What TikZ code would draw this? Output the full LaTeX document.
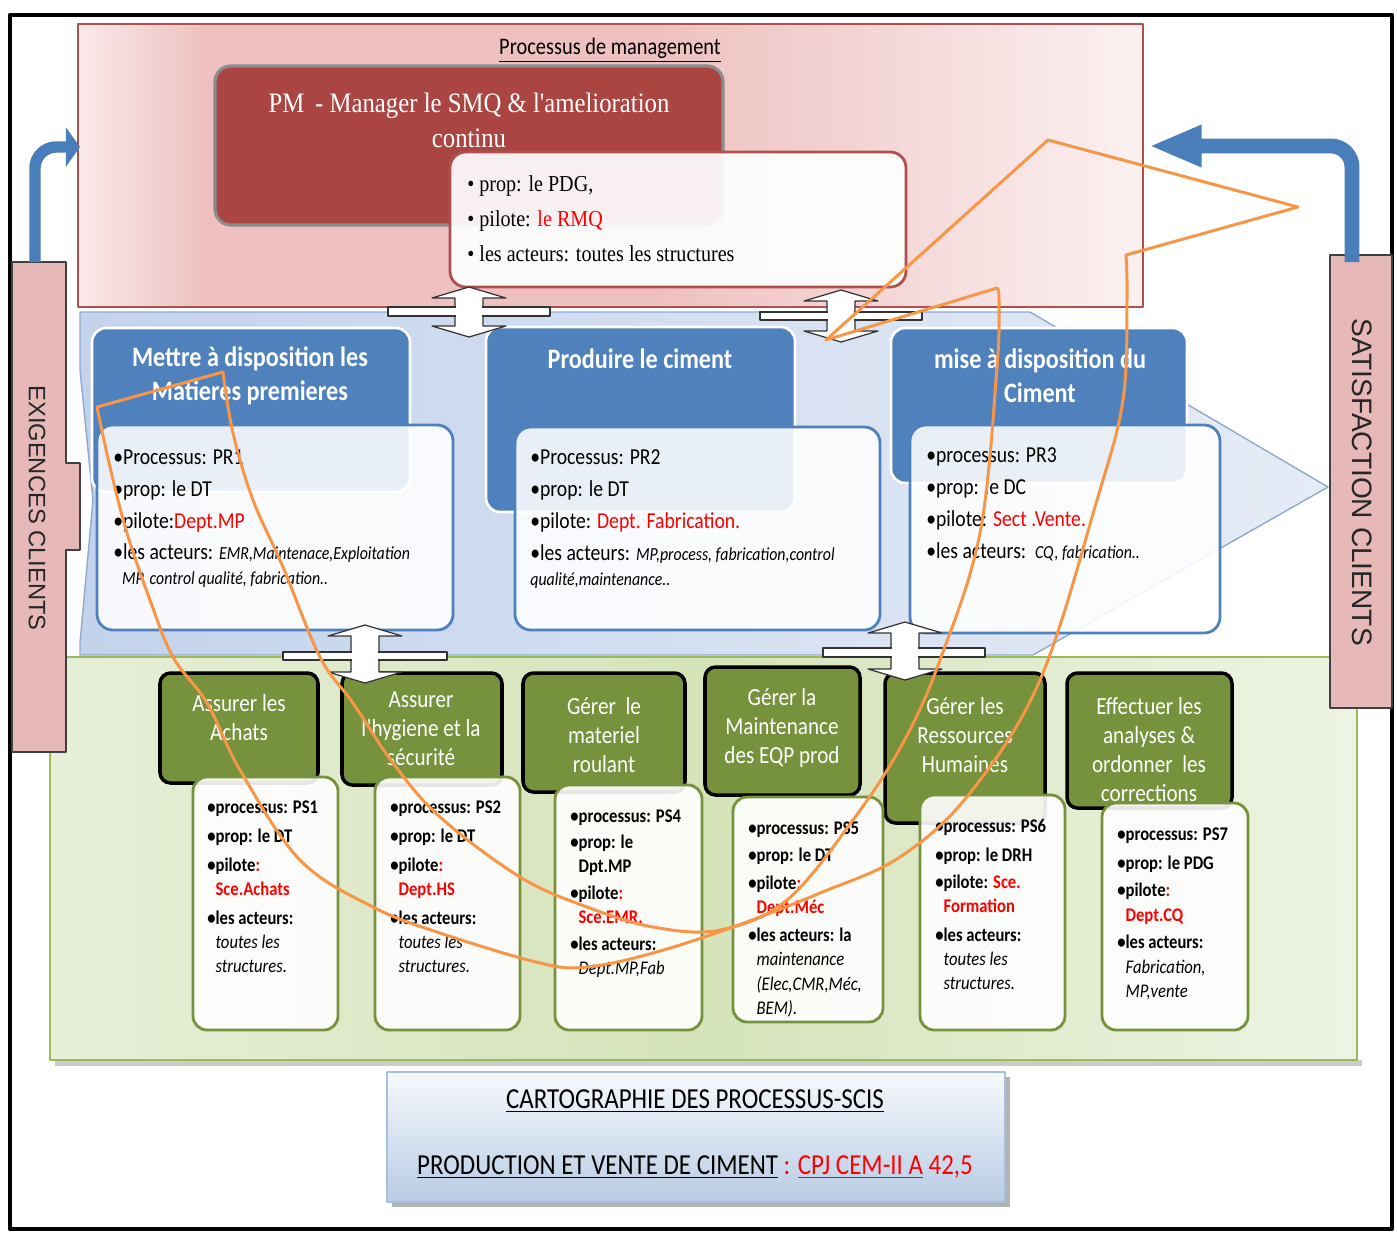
\documentclass[tikz,border=0pt]{standalone}
\usepackage{fontspec}
\setmainfont{Carlito}[FakeStretch=0.86]
\newfontfamily\pmserif{Liberation Serif}[FakeStretch=0.88]
\newfontfamily\sidesans{Liberation Sans}
\usetikzlibrary{arrows.meta,positioning}

% -------------------------------------------------
% Palette
% -------------------------------------------------
\definecolor{pkA}{HTML}{FAEAEA}
\definecolor{pkB}{HTML}{EEC0C0}
\definecolor{pkC}{HTML}{FBF1F1}
\definecolor{pmred}{HTML}{AB4542}
\definecolor{pmedge}{HTML}{B0504D}
\definecolor{bandblueL}{HTML}{C3D3EC}
\definecolor{bandblueR}{HTML}{E6ECF6}
\definecolor{bandedge}{HTML}{8FAAD0}
\definecolor{headblue}{HTML}{4F81BD}
\definecolor{bandgreenL}{HTML}{E7EFD8}
\definecolor{bandgreenM}{HTML}{D5E3B9}
\definecolor{bandgreenR}{HTML}{EEF4E4}
\definecolor{greenedge}{HTML}{9BBB59}
\definecolor{headgreen}{HTML}{76923C}
\definecolor{sidepink}{HTML}{E6B9B8}
\definecolor{arrowblue}{HTML}{4A7EBB}
\definecolor{loopor}{HTML}{F79646}
\definecolor{titletop}{HTML}{F7F9FC}
\definecolor{titlebot}{HTML}{B8CCE4}
\definecolor{titleedge}{HTML}{A7BFDE}
\definecolor{pilotred}{HTML}{FF0000}

\pgfdeclarehorizontalshading{pmshade}{100bp}{color(0bp)=(pkA); color(25bp)=(pkA);
  color(31bp)=(pkB); color(52bp)=(pkB); color(75bp)=(pkC); color(100bp)=(pkC)}

\newcommand\rd[1]{\textcolor{pilotred}{#1}}
\newcommand\bl{\textbullet}
\newcommand\ct{\hphantom{\textbullet}}
\newcommand\smit{\fontsize{10.5}{12}\selectfont\itshape}
\newcommand\gmit{\mdseries\itshape}

\begin{document}
\begin{tikzpicture}[
    x=0.02cm, y=-0.02cm,
    line join=round,
    pmtext/.style={font=\pmserif\fontsize{13}{20}\selectfont, align=left, anchor=north west, inner sep=0pt},
    bluetitle/.style={font=\bfseries\fontsize{16}{19.4}\selectfont, text=white, align=center, inner sep=0pt},
    bluetext/.style={font=\fontsize{13}{18.2}\selectfont, align=left, anchor=north west, inner sep=0pt},
    greentitle/.style={font=\fontsize{14}{16.5}\selectfont, text=white, align=center, inner sep=0pt},
    greentext/.style={font=\bfseries\fontsize{11}{13.7}\selectfont, align=left, anchor=north west, inner sep=0pt},
    bluehead/.style={fill=headblue, draw=white, line width=1.5pt, rounded corners=8pt},
    blueinfo/.style={fill=white, fill opacity=0.88, draw=headblue, line width=1.6pt, rounded corners=9pt},
    greenhead/.style={fill=headgreen, draw=black, line width=2pt, rounded corners=6pt},
    greeninfo/.style={fill=white, fill opacity=0.9, draw=headgreen, line width=1.6pt, rounded corners=8pt},
    sidebar/.style={fill=sidepink, draw=black!75, line width=0.8pt},
    sidetext/.style={font=\sidesans, text=black!85, rotate=-90, inner sep=0pt},
    bentarrow/.style={draw=arrowblue, rounded corners=12pt},
    dblarrow/.style={fill=white, draw=black!80, line width=0.7pt},
    loopline/.style={draw=loopor, line width=1.7pt, line cap=round}
]
\useasboundingbox (0,0) rectangle (1397,1232);

% -------------------------------------------------
% Frame and bands
% -------------------------------------------------
\draw[line width=2.5pt] (10,15) rectangle (1392,1229);

% management band
\shade[shading=pmshade, draw=pmedge, line width=0.8pt] (78,24) rectangle (1143,307);

% realisation band (arrow shape)
\shade[left color=bandblueL, right color=bandblueR, draw=bandedge, line width=0.8pt]
    (80,312) -- (1030,312) -- (1328,487) -- (1033,655) -- (80,655)
    -- (80,643) -- (93,500) -- (80,370) -- cycle;

% support band
\fill[black!20] (55,1060) rectangle (1362,1066);
\shade[left color=bandgreenL, right color=bandgreenR, middle color=bandgreenM,
    draw=greenedge, line width=0.8pt] (50,657) rectangle (1357,1060);

% -------------------------------------------------
% Client bars
% -------------------------------------------------
\path[sidebar] (12,262) -- (66,262) -- (66,463) -- (80,463) -- (80,550)
    -- (66,550) -- (66,752) -- (12,752) -- cycle;
\path[sidebar] (1330,255) rectangle (1392,708);
\node[sidetext, font=\sidesans\fontsize{13.5}{16}\selectfont] (exig) at (37,508) {EXIGENCES CLIENTS};
\node[sidetext, font=\sidesans\fontsize{16}{19}\selectfont] (satis) at (1362,482) {SATISFACTION CLIENTS};

\draw[bentarrow, line width=6.5pt, -{Triangle[width=22pt,length=8pt]}]
    (35,262) -- (35,147) -- (80,147);
\draw[bentarrow, line width=8.5pt, -{Triangle[width=22pt,length=30pt]}]
    (1352,262) -- (1352,146) -- (1149,146);

% -------------------------------------------------
% Management process
% -------------------------------------------------
\node[font=\fontsize{13.5}{16}\selectfont, inner sep=0pt] (pmlabel) at (610,50)
    {\underline{Processus de management}};

\draw[fill=pmred, draw=black!45, line width=1.8pt, rounded corners=9pt] (215,66) rectangle (723,225);
\node[font=\pmserif\fontsize{16}{20}\selectfont, text=white, align=center, inner sep=0pt]
    (pmtitle) at (469,120) {PM \,- Manager le SMQ \& l'amelioration\\continu};

\draw[fill=white, fill opacity=0.92, draw=pmedge, line width=1.6pt, rounded corners=9pt]
    (450,152) rectangle (906,287);
\node[pmtext] (pminfo) at (467,175)
    {\bl\ prop: le PDG,\\ \bl\ pilote: \rd{le RMQ}\\ \bl\ les acteurs: toutes les structures};

% -------------------------------------------------
% Realisation processes
% -------------------------------------------------
\path[bluehead] (92,328) rectangle (410,492);
\path[bluehead] (486,327) rectangle (795,512);
\path[bluehead] (891,328) rectangle (1187,483);

\node[bluetitle] (h1) at (250,376) {Mettre à disposition les\\Matieres premieres};
\node[bluetitle] (h2) at (640,359) {Produire le ciment};
\node[bluetitle] (h3) at (1040,376) {mise à disposition du\\Ciment};

\path[blueinfo] (97,425) rectangle (453,630);
\path[blueinfo] (515,427) rectangle (880,630);
\path[blueinfo] (910,425) rectangle (1220,633);

\node[bluetext] (pr1) at (113,449)
    {\bl Processus: PR1\\ \bl prop: le DT\\ \bl pilote:\rd{Dept.MP}\\
     \bl les acteurs: {\smit EMR,Maintenace,Exploitation}\\[-4pt]
     \hspace*{5pt}{\smit MP, control qualité, fabrication..}};
\node[bluetext] (pr2) at (530,449)
    {\bl Processus: PR2\\ \bl prop: le DT\\ \bl pilote: \rd{Dept. Fabrication.}\\
     \bl les acteurs: {\smit MP,process, fabrication,control}\\[-4pt]
     {\smit qualité,maintenance..}};
\node[bluetext] (pr3) at (926,447)
    {\bl processus: PR3\\ \bl prop: le DC\\ \bl pilote: \rd{Sect .Vente.}\\
     \bl les acteurs:\ \ {\smit CQ, fabrication..}};

% -------------------------------------------------
% Support processes
% -------------------------------------------------
\path[greenhead] (160,673) rectangle (318,783);
\path[greenhead] (342,673) rectangle (502,785);
\path[greenhead] (523,673) rectangle (685,792);
\path[greenhead] (705,667) rectangle (860,795);
\path[greenhead] (885,673) rectangle (1045,823);
\path[greenhead] (1067,673) rectangle (1232,808);

\node[greentitle] (g1) at (239,718) {Assurer les\\Achats};
\node[greentitle] (g2) at (421,729) {Assurer\\l'hygiene et la\\sécurité};
\node[greentitle] (g3) at (604,735) {Gérer \ le\\materiel\\roulant};
\node[greentitle] (g4) at (782,728) {Gérer la\\Maintenance\\des EQP prod};
\node[greentitle] (g5) at (965,735) {Gérer les\\Ressources\\Humaines};
\node[greentitle] (g6) at (1149,750) {Effectuer les\\analyses \&\\ordonner \ les\\corrections};

\path[greeninfo] (193,777) rectangle (338,1030);
\path[greeninfo] (375,777) rectangle (520,1030);
\path[greeninfo] (555,785) rectangle (702,1030);
\path[greeninfo] (733,797) rectangle (883,1022);
\path[greeninfo] (920,795) rectangle (1065,1030);
\path[greeninfo] (1102,803) rectangle (1248,1030);

\node[greentext] (ps1) at (207,800)
    {\bl processus: PS1\\[2.8pt] \bl prop: le DT\\[2.8pt] \bl pilote\rd{:}\\ \ct\rd{Sce.Achats}\\[2.8pt]
     \bl les acteurs:\\ \ct{\gmit toutes les}\\ \ct{\gmit structures.}};
\node[greentext] (ps2) at (390,800)
    {\bl processus: PS2\\[2.8pt] \bl prop: le DT\\[2.8pt] \bl pilote\rd{:}\\ \ct\rd{Dept.HS}\\[2.8pt]
     \bl les acteurs:\\ \ct{\gmit toutes les}\\ \ct{\gmit structures.}};
\node[greentext] (ps4) at (570,809)
    {\bl processus: PS4\\[1.5pt] \bl prop: le\\ \ct Dpt.MP\\[1.5pt] \bl pilote\rd{:}\\ \ct\rd{Sce.EMR.}\\[1.5pt]
     \bl les acteurs:\\ \ct{\gmit Dept.MP,Fab}};
\node[greentext] (ps5) at (748,821)
    {\bl processus: PS5\\[2.2pt] \bl prop: le DT\\[2.2pt] \bl pilote\rd{:}\\ \ct\rd{Dept.Méc}\\[2.2pt]
     \bl les acteurs: la\\ \ct{\gmit maintenance}\\ \ct{\gmit (Elec,CMR,Méc,}\\ \ct{\gmit BEM).}};
\node[greentext] (ps6) at (935,819)
    {\bl processus: PS6\\[2.8pt] \bl prop: le DRH\\[1.5pt] \bl pilote: \rd{Sce.}\\ \ct\rd{Formation}\\[2.8pt]
     \bl les acteurs:\\ \ct{\gmit toutes les}\\ \ct{\gmit structures.}};
\node[greentext] (ps7) at (1117,827)
    {\bl processus: PS7\\[2.8pt] \bl prop: le PDG\\[2.2pt] \bl pilote\rd{:}\\ \ct\rd{Dept.CQ}\\[2.2pt]
     \bl les acteurs:\\ \ct{\gmit Fabrication,}\\ \ct{\gmit MP,vente}};

% -------------------------------------------------
% Double arrows between levels
% -------------------------------------------------
\foreach \ax/\ay/\az/\bxl/\bxr/\byt/\byb in
    {469/287/337/388/550/307/316,
     841/290/342/760/922/312/320,
     365/625/683/283/447/652/660,
     905/622/680/823/985/648/657} {
    \path[dblarrow] (\ax,\ay) -- (\ax+37,\ay+11) -- (\ax+14,\ay+11) -- (\ax+14,\az-11)
        -- (\ax+37,\az-11) -- (\ax,\az) -- (\ax-37,\az-11) -- (\ax-14,\az-11)
        -- (\ax-14,\ay+11) -- (\ax-37,\ay+11) -- cycle;
    \path[dblarrow] (\bxl,\byt) rectangle (\bxr,\byb);
    \fill[white] (\ax-13,\byt-1.5) rectangle (\ax+13,\byb+1.5);
}

% -------------------------------------------------
% Orange loop
% -------------------------------------------------
\draw[loopline] (826,340) -- (1048,140) -- (1298,207) -- (1126,255);
\draw[loopline] plot[smooth, tension=0.6] coordinates {
    (1126,255) (1127,300) (1123,400) (1097,500) (1040,680) (970,793) (900,857)
    (820,893) (733,927) (653,953) (587,967) (540,963) (440,933) (373,907)
    (300,860) (240,770) (207,703) (173,657) (150,600) (127,533) (110,467) (97,407)};
\draw[loopline] (97,407) -- (223,372);
\draw[loopline] plot[smooth, tension=0.6] coordinates {
    (223,372) (233,433) (253,500) (283,567) (320,657) (353,703) (393,763)
    (440,817) (520,877) (587,907) (653,927) (720,930) (787,900) (853,820)
    (903,743) (940,660) (980,533) (997,367) (999,300) (997,288)};
\draw[loopline] (997,288) -- (826,340);

% -------------------------------------------------
% Title box
% -------------------------------------------------
\fill[black!30] (392,1077) rectangle (1010,1207);
\shade[top color=titletop, bottom color=titlebot, draw=titleedge, line width=0.8pt]
    (387,1072) rectangle (1005,1202);
\node[font=\fontsize{16.5}{20}\selectfont, inner sep=0pt] (cart) at (695,1101)
    {\underline{CARTOGRAPHIE DES PROCESSUS-SCIS}};
\node[font=\fontsize{16.5}{20}\selectfont, inner sep=0pt] (prod) at (695,1167)
    {\underline{PRODUCTION ET VENTE DE CIMENT} \rd{: \underline{CPJ CEM-II A} 42,5}};

\end{tikzpicture}
\end{document}
